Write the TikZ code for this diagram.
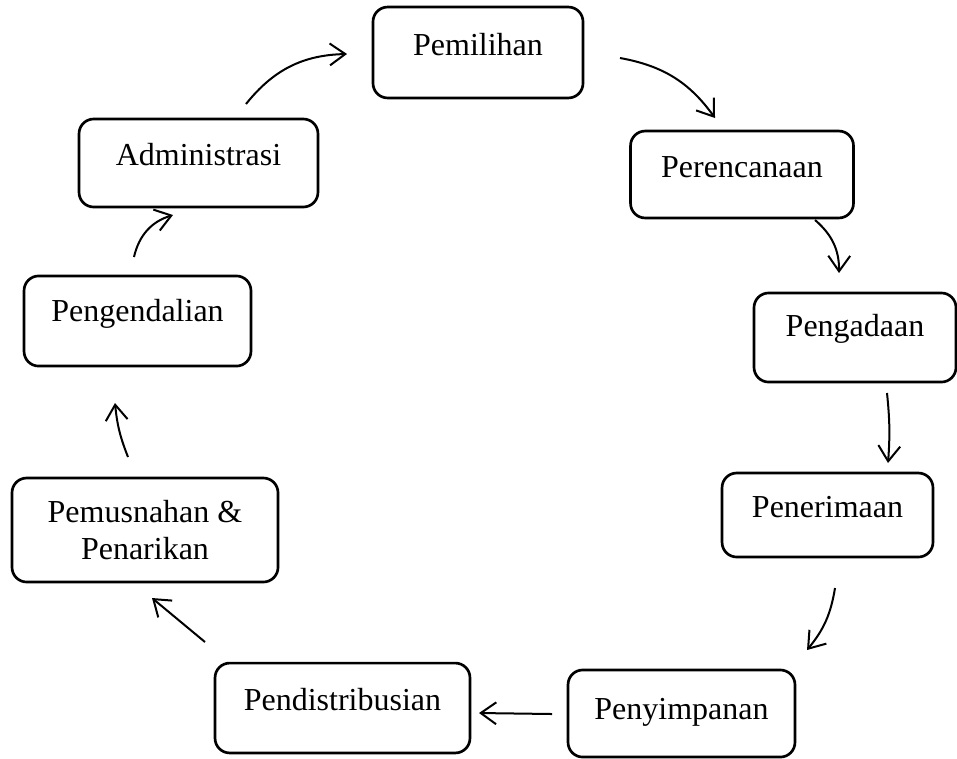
\documentclass[tikz,border=0pt]{standalone}
\usepackage{fontspec}
\setmainfont{Liberation Serif}
\usetikzlibrary{arrows.meta,positioning}

\begin{document}
\begin{tikzpicture}[
  x=0.375pt, y=-0.375pt,
  box/.style={draw, line width=1pt, rounded corners=5.5pt, inner sep=0pt,
    align=center, font=\fontsize{12}{13.8}\selectfont},
  flow/.style={-{Straight Barb[length=5.8pt,width=8.2pt]}, line width=0.75pt}
]
\useasboundingbox (0,0) rectangle (957,758);

% --- Kotak siklus ---
\node[box, minimum width=78.75pt, text height=18pt, text depth=16.1pt] (pemilihan) at (478,52.5) {Pemilihan};
\node[box, minimum width=83.6pt, text height=17.6pt, text depth=15pt] (perencanaan) at (742,174.5) {Perencanaan};
\node[box, minimum width=75.75pt, text height=16.5pt, text depth=16.9pt] (pengadaan) at (855,337.5) {Pengadaan};
\node[box, minimum width=79.1pt, text height=16.5pt, text depth=15pt] (penerimaan) at (827.5,515) {Penerimaan};
\node[box, minimum width=85.1pt, text height=18.4pt, text depth=14.25pt] (penyimpanan) at (681.5,713.5) {Penyimpanan};
\node[box, minimum width=95.6pt, text height=17.6pt, text depth=16.1pt] (pendistribusian) at (342.5,708) {Pendistribusian};
\node[box, minimum width=99.75pt, minimum height=39pt] (pemusnahan) at (145,530) {Pemusnahan \&\\Penarikan};
\node[box, minimum width=85.1pt, text height=16.9pt, text depth=16.9pt] (pengendalian) at (137.5,321) {Pengendalian};
\node[box, minimum width=89.6pt, text height=17.25pt, text depth=15.75pt] (administrasi) at (198.5,163) {Administrasi};

% --- Ujung panah ---
\coordinate (pemilihan-out) at (620,58);
\coordinate (perencanaan-in) at (715,118);
\coordinate (perencanaan-out) at (815,220);
\coordinate (pengadaan-in) at (839,273);
\coordinate (pengadaan-out) at (887,393);
\coordinate (penerimaan-in) at (888,463);
\coordinate (penerimaan-out) at (835,588);
\coordinate (penyimpanan-in) at (807,650);
\coordinate (penyimpanan-out) at (552,714);
\coordinate (pendistribusian-in) at (479,713);
\coordinate (pendistribusian-out) at (205,642);
\coordinate (pemusnahan-in) at (152,598);
\coordinate (pemusnahan-out) at (128,457);
\coordinate (pengendalian-in) at (115,403);
\coordinate (pengendalian-out) at (134,257);
\coordinate (administrasi-in) at (173,215);
\coordinate (administrasi-out) at (246,104);
\coordinate (pemilihan-in) at (347,54);

% Panah
\draw[flow] (pemilihan-out) to[bend left=22] (perencanaan-in);
\draw[flow] (perencanaan-out) to[bend left=25] (pengadaan-in);
\draw[flow] (pengadaan-out) to[bend left=5] (penerimaan-in);
\draw[flow] (penerimaan-out) to[bend left=15] (penyimpanan-in);
\draw[flow] (penyimpanan-out) -- (pendistribusian-in);
\draw[flow] (pendistribusian-out) -- (pemusnahan-in);
\draw[flow] (pemusnahan-out) to[bend left=8] (pengendalian-in);
\draw[flow] (pengendalian-out) to[bend left=30] (administrasi-in);
\draw[flow] (administrasi-out) to[bend left=25] (pemilihan-in);
\end{tikzpicture}
\end{document}
